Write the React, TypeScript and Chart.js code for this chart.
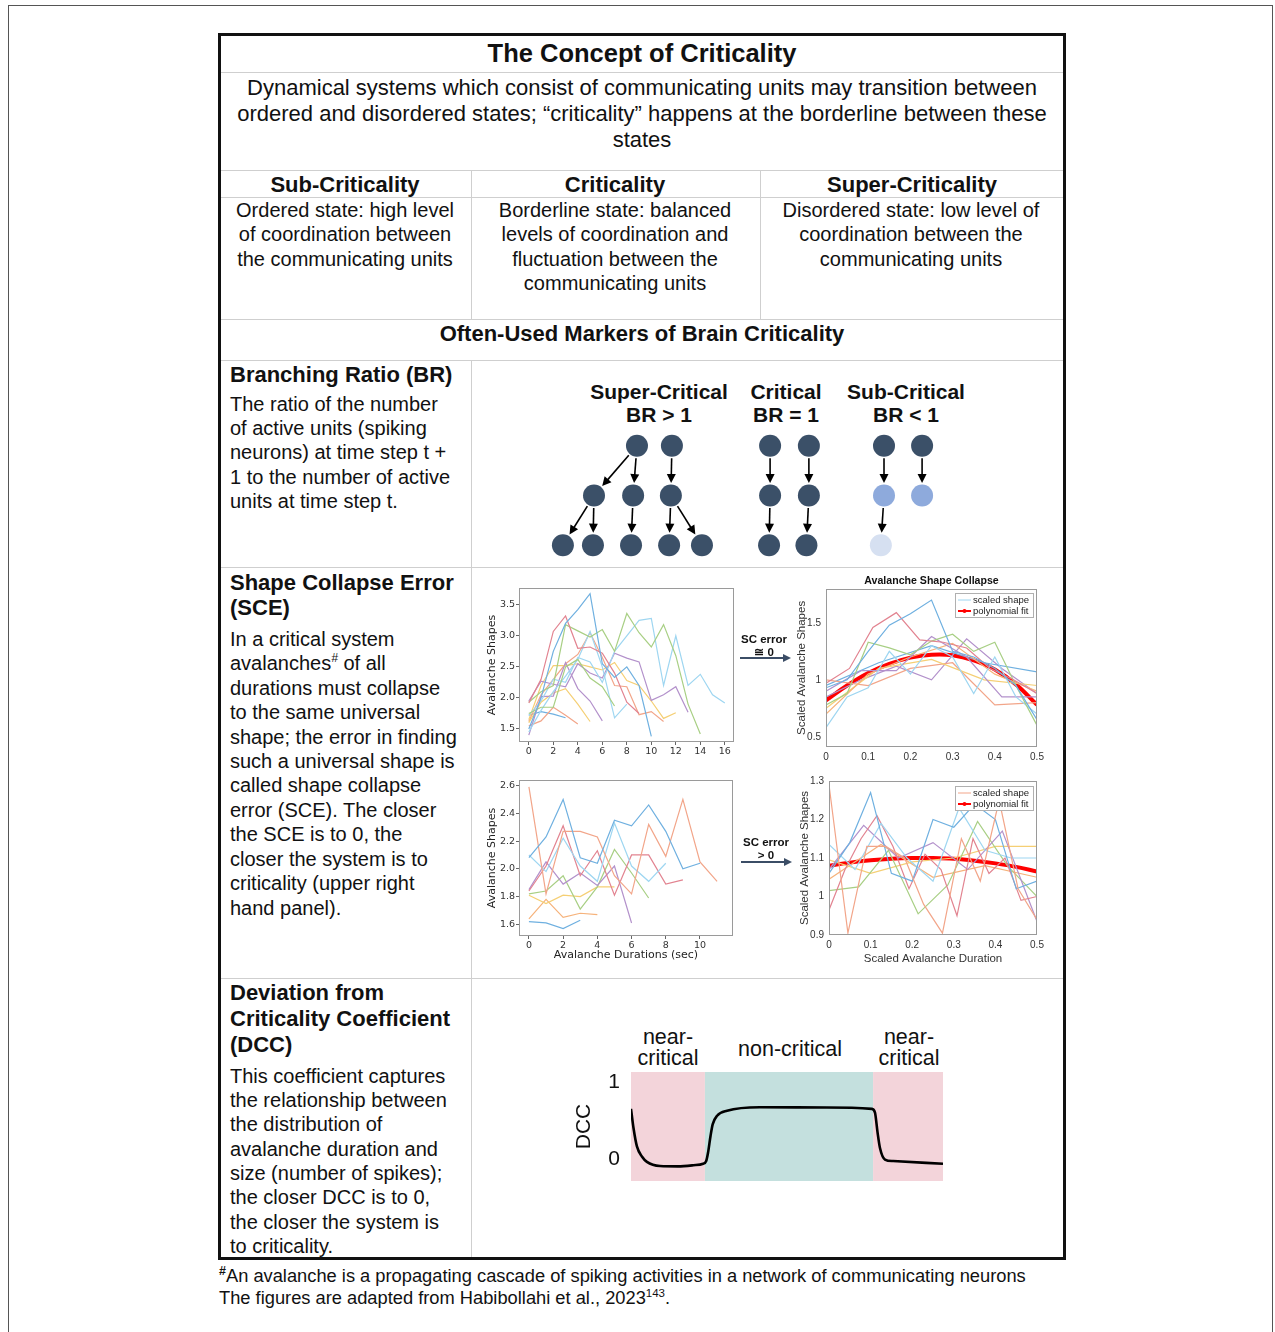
import React, { useEffect, useRef } from "react";
import { Chart, registerables } from "chart.js";
Chart.register(...registerables);

const FONT = "'Liberation Sans', Arial, Helvetica, sans-serif";
const MPL = "'DejaVu Sans', 'Liberation Sans', sans-serif";
Chart.defaults.font.family = FONT;

// ---------- Panel 1: avalanche shapes near criticality (x = avalanche time step) ----------
const crit1XTicks = [0, 2, 4, 6, 8, 10, 12, 14, 16];
const crit1YTicks = [1.5, 2.0, 2.5, 3.0, 3.5];
const crit1Blue = [1.5, 2.0, 2.75, 3.2, 3.42, 3.68, 2.55, 2.33, 2.5, 2.2, 1.38];
const crit1Red = [1.92, 2.3, 3.07, 3.32, 2.8, 2.82, 2.72, 2.4, 1.93, 1.75];
const crit1GreenA = [1.93, 2.1, 2.2, 3.18, 3.08, 2.98, 3.1, 2.75, 3.36, 3.05, 2.82, 3.18, 2.68, 1.9, 1.42];
const crit1GreenB = [1.75, 1.85, 1.85, 2.5, 2.62, 2.32, 2.18, 1.87];
const crit1CyanA = [1.72, 1.95, 2.3, 2.25, 2.65, 2.58, 2.25, 2.75, 3.0, 3.25, 3.28, 2.2, 3.0, 2.2, 2.38, 2.05, 1.92];
const crit1CyanB = [1.45, 1.8, 2.1, 2.35, 2.62, 3.07, 2.5, 1.68, 1.9];
const crit1PurpleA = [1.4, 2.02, 2.03, 2.57, 2.15, 1.95, 1.63];
const crit1PurpleB = [1.95, 2.27, 2.22, 2.18, 2.55, 2.4, 2.32, 2.72, 2.64, 2.58, 1.96, 2.05, 2.18, 1.77];
const crit1YellowA = [1.65, 2.2, 2.52, 2.52, 2.55, 2.5, 2.45, 2.57, 2.28, 2.2, 1.95, 1.67, 1.76];
const crit1YellowB = [1.6, 1.93, 2.08, 2.15, 1.9, 1.62];
const crit1SalmonA = [1.55, 1.63, 1.85, 1.72, 1.58];
const crit1SalmonB = [1.62, 2.05, 2.3, 2.55, 2.7, 3.05, 2.65, 2.2, 2.18, 1.73, 1.78, 1.62];
const crit1BlueShort = [1.72, 1.78, 1.74, 1.68];

// ---------- Panel 2: collapsed shapes near criticality (x = scaled duration 0..0.5) ----------
const scaledXTicks = [0, 0.1, 0.2, 0.3, 0.4, 0.5];
const crit2YTicks = [0.5, 1, 1.5];
const crit2Blue = [0.93, 1.0, 1.25, 1.48, 1.58, 1.7, 1.25, 1.2, 1.1, 0.95, 0.65];
const crit2Red = [0.97, 1.1, 1.46, 1.59, 1.35, 1.33, 1.28, 1.1, 1.0, 0.88];
const crit2Green = [0.78, 0.88, 1.33, 1.28, 1.22, 1.34, 1.4, 1.25, 1.33, 0.95, 0.6];
const crit2Cyan = [0.58, 0.85, 0.93, 1.25, 1.05, 1.3, 1.2, 0.88, 1.2, 0.85, 0.7];
const crit2Purple = [0.9, 1.08, 1.08, 1.38, 1.2, 0.85, 0.85];
const crit2Orange = [0.7, 1.05, 1.2, 1.32, 1.05, 0.9];
const crit2Yellow = [0.75, 1.1, 1.18, 1.0, 0.95];
const crit2Salmon = [1.0, 0.95, 1.1, 1.15, 0.78, 0.8];
const crit2BlueB = [0.95, 1.15, 1.3, 1.15, 1.07];
const crit2PurpleB = [0.85, 1.0, 1.12, 1.0, 1.36, 1.1, 0.88];
const crit2Fit = [0.82, 0.95, 1.06, 1.14, 1.195, 1.22, 1.215, 1.17, 1.09, 0.96, 0.78];

// ---------- Panel 3: avalanche shapes away from criticality ----------
const non3XTicks = [0, 2, 4, 6, 8, 10];
const non3YTicks = [1.6, 1.8, 2.0, 2.2, 2.4, 2.6];
const non3Blue = [2.08, 2.23, 2.5, 2.08, 2.04, 2.35, 2.31, 2.46, 2.27, 2.0, 2.04];
const non3Salmon = [2.59, 1.82, 2.27, 2.27, 2.23, 1.95, 1.82, 2.32, 2.09, 2.5, 2.05, 1.91];
const non3Cyan = [2.1, 1.98, 2.22, 2.02, 1.91, 2.33, 2.02, 1.91, 2.04];
const non3Red = [1.84, 2.02, 2.31, 1.95, 2.13, 1.81, 2.1, 2.1, 1.89, 1.92];
const non3Purple = [1.85, 2.05, 1.89, 1.97, 1.88, 2.02, 1.61];
const non3Green = [1.82, 1.84, 1.95, 1.71, 1.87, 2.14, 1.97, 1.79];
const non3Yellow = [1.81, 1.75, 1.81, 1.8, 1.87, 1.87];
const non3Orange = [1.64, 1.78, 1.65, 1.68, 1.67];
const non3BlueShort = [1.62, 1.61, 1.57, 1.63];

// ---------- Panel 4: collapsed shapes away from criticality ----------
const non4YTicks = [0.9, 1, 1.1, 1.2, 1.3];
const non4Salmon = [1.29, 0.905, 1.13, 1.13, 1.1, 0.98, 0.905, 1.15, 1.04, 1.25, 1.02, 0.94];
const non4Blue = [1.06, 1.14, 1.27, 1.06, 1.04, 1.2, 1.18, 1.24, 1.2, 1.02, 1.04];
const non4Cyan = [1.135, 1.07, 1.19, 1.1, 1.04, 1.23, 1.12, 1.1, 1.1];
const non4Red = [0.965, 1.07, 1.15, 1.21, 1.13, 1.02, 1.11, 1.07, 0.95, 1.15, 1.06, 1.1, 0.99, 1.0];
const non4Purple = [1.07, 1.185, 1.1, 1.14, 1.07, 1.17, 0.935];
const non4Green = [1.015, 1.025, 1.12, 0.955, 1.03, 1.195, 1.08, 1.0];
const non4Yellow = [1.095, 1.06, 1.09, 1.1, 1.13, 1.13];
const non4Orange = [1.045, 1.135, 1.05, 1.08, 1.05];
const non4Fit = [1.08, 1.088, 1.094, 1.098, 1.1, 1.1, 1.098, 1.093, 1.086, 1.077, 1.065];

const legendLabels = ["scaled shape", "polynomial fit"];

// ---------- DCC ----------
const dccX = [0, 0.008, 0.019, 0.035, 0.051, 0.093, 0.15, 0.2, 0.231, 0.241, 0.247, 0.255, 0.262, 0.276, 0.308, 0.413, 0.628, 0.772, 0.782, 0.79, 0.798, 0.814, 0.84, 1.0];
const dccY = [0.65, 0.4, 0.16, 0.03, -0.04, -0.095, -0.1, -0.085, -0.065, -0.03, 0.08, 0.3, 0.45, 0.56, 0.625, 0.67, 0.668, 0.65, 0.6, 0.35, 0.14, -0.01, -0.03, -0.065];
const dccTicks = [0, 1];
const dccRegionStart = [0, 0.237, 0.776];
const dccRegionEnd = [0.237, 0.776, 1];

// ---------- Branching ratio nodes (x in node units, level = time step) ----------
const nodeX = [4.75, 5.75, 3.52, 4.64, 5.72, 2.63, 3.49, 4.58, 5.67, 6.61, 8.56, 9.67, 8.56, 9.67, 8.53, 9.6, 11.82, 12.91, 11.82, 12.91, 11.73];
const nodeLevel = [0, 0, 1, 1, 1, 2, 2, 2, 2, 2, 0, 0, 1, 1, 2, 2, 0, 0, 1, 1, 2];
const nodeShade = [0, 0, 0, 0, 0, 0, 0, 0, 0, 0, 0, 0, 0, 0, 0, 0, 0, 0, 1, 1, 2];
const branchEdges = [[0, 2], [0, 3], [1, 4], [2, 5], [2, 6], [3, 7], [4, 8], [4, 9], [10, 12], [12, 14], [11, 13], [13, 15], [16, 18], [18, 20], [17, 19]];

// ---------- styles ----------
const COL = {
  blue: "#6fb0e0",
  cyan: "#9ed6f1",
  red: "#e28390",
  salmon: "#f2a589",
  green: "#a8cf84",
  purple: "#b391cb",
  yellow: "#f5cf74",
  orange: "#f6b27a",
};
const crit1Series = [crit1Blue, crit1Red, crit1GreenA, crit1GreenB, crit1CyanA, crit1CyanB, crit1PurpleA, crit1PurpleB, crit1YellowA, crit1YellowB, crit1SalmonA, crit1SalmonB, crit1BlueShort];
const crit1Colors = [COL.blue, COL.red, COL.green, COL.green, COL.cyan, COL.cyan, COL.purple, COL.purple, COL.yellow, COL.yellow, COL.salmon, COL.salmon, COL.blue];
const crit2Series = [crit2Blue, crit2Red, crit2Green, crit2Cyan, crit2Purple, crit2Orange, crit2Yellow, crit2Salmon, crit2BlueB, crit2PurpleB];
const crit2Colors = [COL.blue, COL.red, COL.green, COL.cyan, COL.purple, COL.orange, COL.yellow, COL.salmon, COL.blue, COL.purple];
const non3Series = [non3Blue, non3Salmon, non3Cyan, non3Red, non3Purple, non3Green, non3Yellow, non3Orange, non3BlueShort];
const non3Colors = [COL.blue, COL.salmon, COL.cyan, COL.red, COL.purple, COL.green, COL.yellow, COL.orange, COL.blue];
const non4Series = [non4Salmon, non4Blue, non4Cyan, non4Red, non4Purple, non4Green, non4Yellow, non4Orange];
const non4Colors = [COL.salmon, COL.blue, COL.cyan, COL.red, COL.purple, COL.green, COL.yellow, COL.orange];
const shadeColors = ["#3b5068", "#8eaadc", "#d6e0f1"];

const setTicks = (vals: number[]) => (s: any) => {
  s.ticks = vals.map((v) => ({ value: v }));
};
const fixW = (w: number) => (s: any) => {
  s.width = w;
  s.paddingTop = 0;
  s.paddingBottom = 0;
  s.paddingLeft = 0;
  s.paddingRight = 0;
};
const fixH = (h: number) => (s: any) => {
  s.height = h;
  s.paddingTop = 0;
  s.paddingBottom = 0;
  s.paddingLeft = 0;
  s.paddingRight = 0;
};
const fmt1 = (v: any) => Number(v).toFixed(1);
const fmtG = (v: any) => String(Math.round(Number(v) * 100) / 100);

const framePlugin = {
  id: "frame",
  afterDatasetsDraw(chart: any) {
    const { ctx, chartArea: a } = chart;
    ctx.save();
    ctx.strokeStyle = "#9a9a9a";
    ctx.lineWidth = 1;
    ctx.strokeRect(Math.round(a.left) + 0.5, Math.round(a.top) + 0.5, Math.round(a.width) - 1, Math.round(a.height) - 1);
    ctx.restore();
  },
};

function legendPlugin(sampleColor: string, gapTop: number) {
  return {
    id: "legendBox",
    afterDraw(chart: any) {
      const { ctx, chartArea: a } = chart;
      const w = 78;
      const h = 24;
      const x = Math.round(a.right - 4 - w);
      const y = Math.round(a.top + gapTop);
      ctx.save();
      ctx.fillStyle = "#fff";
      ctx.fillRect(x, y, w, h);
      ctx.strokeStyle = "#b0b0b0";
      ctx.lineWidth = 1;
      ctx.strokeRect(x + 0.5, y + 0.5, w, h);
      ctx.font = `9.5px ${FONT}`;
      ctx.textBaseline = "middle";
      ctx.fillStyle = "#222";
      ctx.strokeStyle = sampleColor;
      ctx.lineWidth = 1;
      ctx.beginPath();
      ctx.moveTo(x + 3, y + 7);
      ctx.lineTo(x + 16, y + 7);
      ctx.stroke();
      ctx.fillText(legendLabels[0], x + 18, y + 7.5);
      ctx.strokeStyle = "#ff0000";
      ctx.lineWidth = 2;
      ctx.beginPath();
      ctx.moveTo(x + 3, y + 18);
      ctx.lineTo(x + 16, y + 18);
      ctx.stroke();
      ctx.fillStyle = "#ff0000";
      ctx.beginPath();
      ctx.arc(x + 9.5, y + 18, 2, 0, Math.PI * 2);
      ctx.fill();
      ctx.fillStyle = "#222";
      ctx.fillText(legendLabels[1], x + 18, y + 18.5);
      ctx.restore();
    },
  };
}

function lineSets(series: number[][], colors: string[], scaled: boolean) {
  return series.map((ys, k) => ({
    data: ys.map((y, i) => ({ x: scaled ? (0.5 * i) / (ys.length - 1) : i, y })),
    borderColor: colors[k],
    borderWidth: 1.2,
    pointRadius: 0,
    fill: false,
    tension: 0,
  }));
}

function fitSet(ys: number[]) {
  return {
    data: ys.map((y, i) => ({ x: (0.5 * i) / (ys.length - 1), y })),
    borderColor: "#ff0000",
    borderWidth: 4,
    pointRadius: 0,
    fill: false,
    tension: 0.4,
  };
}

const commonOpts = {
  animation: false as const,
  responsive: false,
  events: [] as any[],
};

function mplConfig(p: {
  series: number[][];
  colors: string[];
  xMin: number; xMax: number; yMin: number; yMax: number;
  xTicks: number[]; yTicks: number[];
  yW: number; xH: number;
  padTop: number; padRight: number;
  xTitle?: string; xTitlePad?: number;
}) {
  return {
    type: "line",
    data: { datasets: lineSets(p.series, p.colors, false) },
    options: {
      ...commonOpts,
      layout: { autoPadding: false, padding: { top: p.padTop, right: p.padRight, left: 0, bottom: 0 } },
      plugins: { legend: { display: false }, tooltip: { enabled: false } },
      scales: {
        x: {
          type: "linear",
          min: p.xMin,
          max: p.xMax,
          afterBuildTicks: setTicks(p.xTicks),
          afterFit: fixH(p.xH),
          ticks: { font: { family: MPL, size: 9.5 }, color: "#333", padding: 1, maxRotation: 0, autoSkip: false },
          grid: { display: true, drawOnChartArea: false, tickLength: 3, color: "#666" },
          border: { display: false },
          title: p.xTitle
            ? { display: true, text: p.xTitle, font: { family: MPL, size: 11 }, color: "#222", padding: { top: 0, bottom: p.xTitlePad } }
            : { display: false },
        },
        y: {
          type: "linear",
          min: p.yMin,
          max: p.yMax,
          afterBuildTicks: setTicks(p.yTicks),
          afterFit: fixW(p.yW),
          ticks: { font: { family: MPL, size: 9.5 }, color: "#333", padding: 1, callback: fmt1, autoSkip: false },
          grid: { display: true, drawOnChartArea: false, tickLength: 3, color: "#666" },
          border: { display: false },
          title: { display: true, text: "Avalanche Shapes", font: { family: MPL, size: 11 }, color: "#222", padding: { top: 7.4, bottom: 0 } },
        },
      },
    },
    plugins: [framePlugin],
  };
}

function matlabConfig(p: {
  series: number[][];
  colors: string[];
  fit: number[];
  yMin: number; yMax: number; yTicks: number[];
  yW: number; xH: number; padTop: number; padRight: number;
  yTitlePad: number;
  title?: string;
  xTitle?: string; xTitlePad?: number;
  sample: string; legendGap: number;
}) {
  return {
    type: "line",
    data: { datasets: [...lineSets(p.series, p.colors, true), fitSet(p.fit)] },
    options: {
      ...commonOpts,
      layout: { autoPadding: false, padding: { top: p.padTop, right: p.padRight, left: 0, bottom: 0 } },
      plugins: {
        legend: { display: false },
        tooltip: { enabled: false },
        title: p.title
          ? { display: true, text: p.title, fullSize: false, color: "#111", font: { family: FONT, size: 10.6, weight: "bold" }, padding: { top: 3, bottom: 1 } }
          : { display: false },
      },
      scales: {
        x: {
          type: "linear",
          min: 0,
          max: 0.5,
          afterBuildTicks: setTicks(scaledXTicks),
          afterFit: fixH(p.xH),
          ticks: { font: { family: FONT, size: 10 }, color: "#333", padding: 4, maxRotation: 0, autoSkip: false, callback: fmtG },
          grid: { display: false, drawTicks: false },
          border: { display: false },
          title: p.xTitle
            ? { display: true, text: p.xTitle, font: { family: FONT, size: 11.5 }, color: "#333", padding: { top: 0, bottom: p.xTitlePad } }
            : { display: false },
        },
        y: {
          type: "linear",
          min: p.yMin,
          max: p.yMax,
          afterBuildTicks: setTicks(p.yTicks),
          afterFit: fixW(p.yW),
          ticks: { font: { family: FONT, size: 10 }, color: "#333", padding: 5, callback: fmtG, autoSkip: false },
          grid: { display: false, drawTicks: false },
          border: { display: false },
          title: { display: true, text: "Scaled Avalanche Shapes", font: { family: FONT, size: 11.5 }, color: "#333", padding: { top: p.yTitlePad, bottom: 0 } },
        },
      },
    },
    plugins: [framePlugin, legendPlugin(p.sample, p.legendGap)],
  };
}

const dccRegionPlugin = {
  id: "regions",
  beforeDatasetsDraw(chart: any) {
    const { ctx, chartArea: a, scales } = chart;
    const colors = ["#f3d4da", "#c4e0de", "#f3d4da"];
    ctx.save();
    dccRegionStart.forEach((s, i) => {
      const x0 = scales.x.getPixelForValue(s);
      const x1 = scales.x.getPixelForValue(dccRegionEnd[i]);
      ctx.fillStyle = colors[i];
      ctx.fillRect(x0, a.top, x1 - x0, a.bottom - a.top);
    });
    ctx.restore();
  },
};

function dccConfig() {
  return {
    type: "line",
    data: {
      datasets: [
        {
          data: dccX.map((x, i) => ({ x, y: dccY[i] })),
          borderColor: "#000",
          borderWidth: 2.6,
          pointRadius: 0,
          fill: false,
          cubicInterpolationMode: "monotone",
        },
      ],
    },
    options: {
      ...commonOpts,
      layout: { autoPadding: false, padding: { top: 6, right: 17, left: 0, bottom: 15 } },
      plugins: { legend: { display: false }, tooltip: { enabled: false } },
      scales: {
        x: { type: "linear", min: 0, max: 1, display: false },
        y: {
          type: "linear",
          min: -0.29,
          max: 1.13,
          afterBuildTicks: setTicks(dccTicks),
          afterFit: fixW(71),
          ticks: { font: { family: FONT, size: 21 }, color: "#111", padding: 11, autoSkip: false },
          grid: { display: false, drawTicks: false },
          border: { display: false },
          title: { display: true, text: "DCC", font: { family: FONT, size: 21 }, color: "#111", padding: { top: 12, bottom: 0 } },
        },
      },
    },
    plugins: [dccRegionPlugin],
  };
}

const arrowPlugin = {
  id: "arrows",
  afterDatasetsDraw(chart: any) {
    const { ctx, scales } = chart;
    const r = 12.5;
    ctx.save();
    ctx.strokeStyle = "#000";
    ctx.fillStyle = "#000";
    ctx.lineWidth = 1.6;
    branchEdges.forEach(([a, b]) => {
      const ax = scales.x.getPixelForValue(nodeX[a]);
      const ay = scales.y.getPixelForValue(nodeLevel[a]);
      const bx = scales.x.getPixelForValue(nodeX[b]);
      const by = scales.y.getPixelForValue(nodeLevel[b]);
      const dx = bx - ax;
      const dy = by - ay;
      const len = Math.hypot(dx, dy);
      const ux = dx / len;
      const uy = dy / len;
      const sx = ax + ux * r;
      const sy = ay + uy * r;
      const ex = bx - ux * r;
      const ey = by - uy * r;
      const hl = 9;
      const hw = 4.5;
      ctx.beginPath();
      ctx.moveTo(sx, sy);
      ctx.lineTo(ex - ux * hl * 0.8, ey - uy * hl * 0.8);
      ctx.stroke();
      ctx.beginPath();
      ctx.moveTo(ex, ey);
      ctx.lineTo(ex - ux * hl - uy * hw, ey - uy * hl + ux * hw);
      ctx.lineTo(ex - ux * hl + uy * hw, ey - uy * hl - ux * hw);
      ctx.closePath();
      ctx.fill();
    });
    ctx.restore();
  },
};

function branchConfig() {
  return {
    type: "scatter",
    data: {
      datasets: [
        {
          data: nodeX.map((x, i) => ({ x, y: nodeLevel[i] })),
          pointRadius: 11,
          pointBorderWidth: 0,
          pointBackgroundColor: nodeShade.map((s) => shadeColors[s]),
          pointBorderColor: nodeShade.map((s) => shadeColors[s]),
          clip: false,
        },
      ],
    },
    options: {
      ...commonOpts,
      layout: { autoPadding: false, padding: 0 },
      plugins: { legend: { display: false }, tooltip: { enabled: false } },
      scales: {
        x: { type: "linear", min: 0, max: 17, display: false },
        y: { type: "linear", min: -0.5, max: 2.5, reverse: true, display: false },
      },
    },
    plugins: [arrowPlugin],
  };
}

function ChartBox({ x, y, w, h, make }: { x: number; y: number; w: number; h: number; make: () => any }) {
  const ref = useRef<HTMLCanvasElement>(null);
  useEffect(() => {
    const chart = new Chart(ref.current as HTMLCanvasElement, make());
    return () => chart.destroy();
  }, []);
  return (
    <div style={{ position: "absolute", left: x, top: y, width: w, height: h }}>
      <canvas ref={ref} width={w} height={h} style={{ width: w, height: h, display: "block" }} />
    </div>
  );
}

function Lines({ x, y, w, lh, size, bold, align, lines }: { x: number; y: number; w?: number; lh: number; size: number; bold?: boolean; align?: "left" | "center"; lines: React.ReactNode[] }) {
  const isCenter = align === "center";
  const width = w ?? 600;
  return (
    <div
      style={{
        position: "absolute",
        left: isCenter ? x - width / 2 : x,
        top: y - lh / 2,
        width,
        textAlign: isCenter ? "center" : "left",
        fontSize: size,
        fontWeight: bold ? 700 : 400,
        lineHeight: lh + "px",
        whiteSpace: "nowrap",
      }}
    >
      {lines.map((l, i) => (
        <div key={i}>{l}</div>
      ))}
    </div>
  );
}

const HLine = ({ y }: { y: number }) => (
  <div style={{ position: "absolute", left: 221, width: 842, top: y, height: 1, background: "#cfcfcf" }} />
);
const VLine = ({ x, y0, y1 }: { x: number; y0: number; y1: number }) => (
  <div style={{ position: "absolute", left: x, top: y0, width: 1, height: y1 - y0, background: "#cfcfcf" }} />
);

function Arrow({ x0, x1, y }: { x0: number; x1: number; y: number }) {
  return (
    <>
      <div style={{ position: "absolute", left: x0, top: y - 1, width: x1 - x0 - 7, height: 2, background: "#3b4d66" }} />
      <div
        style={{
          position: "absolute",
          left: x1 - 8,
          top: y - 4.5,
          width: 0,
          height: 0,
          borderTop: "4.5px solid transparent",
          borderBottom: "4.5px solid transparent",
          borderLeft: "8px solid #3b4d66",
        }}
      />
    </>
  );
}

export default function App() {
  return (
    <div
      style={{
        position: "absolute",
        left: 0,
        top: 0,
        width: 1275,
        height: 1332,
        overflow: "hidden",
        background: "#fff",
        fontFamily: FONT,
        color: "#111",
      }}
    >
      <div style={{ position: "absolute", left: 8, top: 5, width: 1265, height: 1340, border: "1px solid #555", boxSizing: "border-box" }} />
      <div style={{ position: "absolute", left: 218, top: 33, width: 848, height: 1227, border: "3px solid #111", boxSizing: "border-box" }} />

      <HLine y={72} />
      <HLine y={170} />
      <HLine y={197} />
      <HLine y={319} />
      <HLine y={360} />
      <HLine y={567} />
      <HLine y={978} />
      <VLine x={471} y0={170} y1={319} />
      <VLine x={760} y0={170} y1={319} />
      <VLine x={471} y0={360} y1={1257} />

      <Lines x={642} y={53} w={800} lh={30} size={25.5} bold align="center" lines={["The Concept of Criticality"]} />
      <Lines
        x={642}
        y={88}
        w={840}
        lh={26}
        size={22}
        align="center"
        lines={[
          "Dynamical systems which consist of communicating units may transition between",
          "ordered and disordered states; \u201ccriticality\u201d happens at the borderline between these",
          "states",
        ]}
      />
      <Lines x={345} y={185} w={250} lh={26} size={22} bold align="center" lines={["Sub-Criticality"]} />
      <Lines x={615} y={185} w={280} lh={26} size={22} bold align="center" lines={["Criticality"]} />
      <Lines x={912} y={185} w={300} lh={26} size={22} bold align="center" lines={["Super-Criticality"]} />
      <Lines x={345} y={210} w={250} lh={24.4} size={20} align="center" lines={["Ordered state: high level", "of coordination between", "the communicating units"]} />
      <Lines x={615} y={210} w={280} lh={24.4} size={20} align="center" lines={["Borderline state: balanced", "levels of coordination and", "fluctuation between the", "communicating units"]} />
      <Lines x={911} y={210} w={300} lh={24.4} size={20} align="center" lines={["Disordered state: low level of", "coordination between the", "communicating units"]} />
      <Lines x={642} y={334} w={800} lh={26} size={22} bold align="center" lines={["Often-Used Markers of Brain Criticality"]} />

      <Lines x={230} y={375} lh={26} size={22} bold lines={["Branching Ratio (BR)"]} />
      <Lines
        x={230}
        y={404}
        lh={24.3}
        size={20}
        lines={["The ratio of the number", "of active units (spiking", "neurons) at time step t +", "1 to the number of active", "units at time step t."]}
      />

      <Lines x={230} y={582} lh={25} size={22} bold lines={["Shape Collapse Error", "(SCE)"]} />
      <Lines
        x={230}
        y={639}
        lh={24.45}
        size={20}
        lines={[
          "In a critical system",
          <span>
            avalanches<sup style={{ fontSize: 12, lineHeight: 0, fontStyle: "italic" }}>#</sup> of all
          </span>,
          "durations must collapse",
          "to the same universal",
          "shape; the error in finding",
          "such a universal shape is",
          "called shape collapse",
          "error (SCE). The closer",
          "the SCE is to 0, the",
          "closer the system is to",
          "criticality (upper right",
          "hand panel).",
        ]}
      />

      <Lines x={230} y={993} lh={26} size={22} bold lines={["Deviation from", "Criticality Coefficient", "(DCC)"]} />
      <Lines
        x={230}
        y={1076}
        lh={24.3}
        size={20}
        lines={[
          "This coefficient captures",
          "the relationship between",
          "the distribution of",
          "avalanche duration and",
          "size (number of spikes);",
          "the closer DCC is to 0,",
          "the closer the system is",
          "to criticality.",
        ]}
      />

      <Lines
        x={219}
        y={1276}
        w={1000}
        lh={22}
        size={18.3}
        lines={[
          <span>
            <sup style={{ fontSize: 12.5, lineHeight: 0, fontWeight: 700 }}>#</sup>An avalanche is a propagating cascade of spiking activities in a network of communicating neurons
          </span>,
          <span>
            The figures are adapted from Habibollahi et al., 2023<sup style={{ fontSize: 11.5, lineHeight: 0 }}>143</sup>.
          </span>,
        ]}
      />

      {/* Branching ratio diagram */}
      <Lines x={659} y={391} w={200} lh={23} size={21} bold align="center" lines={["Super-Critical", "BR > 1"]} />
      <Lines x={786} y={391} w={120} lh={23} size={21} bold align="center" lines={["Critical", "BR = 1"]} />
      <Lines x={906} y={391} w={160} lh={23} size={21} bold align="center" lines={["Sub-Critical", "BR < 1"]} />
      <ChartBox x={471} y={421} w={594} h={149} make={branchConfig} />

      {/* Shape collapse panels */}
      <ChartBox
        x={478}
        y={580}
        w={262}
        h={190}
        make={() =>
          mplConfig({
            series: crit1Series,
            colors: crit1Colors,
            xMin: -0.8,
            xMax: 16.75,
            yMin: 1.29,
            yMax: 3.77,
            xTicks: crit1XTicks,
            yTicks: crit1YTicks,
            yW: 41,
            xH: 28,
            padTop: 8,
            padRight: 6,
          })
        }
      />
      <ChartBox
        x={478}
        y={772}
        w={262}
        h={200}
        make={() =>
          mplConfig({
            series: non3Series,
            colors: non3Colors,
            xMin: -0.58,
            xMax: 11.93,
            yMin: 1.516,
            yMax: 2.64,
            xTicks: non3XTicks,
            yTicks: non3YTicks,
            yW: 41,
            xH: 36,
            padTop: 8,
            padRight: 7,
            xTitle: "Avalanche Durations (sec)",
            xTitlePad: 10.4,
          })
        }
      />
      <ChartBox
        x={790}
        y={572}
        w={255}
        h={195}
        make={() =>
          matlabConfig({
            series: crit2Series,
            colors: crit2Colors,
            fit: crit2Fit,
            yMin: 0.41,
            yMax: 1.8,
            yTicks: crit2YTicks,
            yW: 36,
            xH: 20,
            padTop: 0,
            padRight: 8,
            yTitlePad: 4.8,
            title: "Avalanche Shape Collapse",
            sample: COL.cyan,
            legendGap: 4,
          })
        }
      />
      <ChartBox
        x={790}
        y={772}
        w={255}
        h={200}
        make={() =>
          matlabConfig({
            series: non4Series,
            colors: non4Colors,
            fit: non4Fit,
            yMin: 0.9,
            yMax: 1.3,
            yTicks: non4YTicks,
            yW: 39,
            xH: 37,
            padTop: 9,
            padRight: 8,
            yTitlePad: 8.1,
            xTitle: "Scaled Avalanche Duration",
            xTitlePad: 6.1,
            sample: COL.salmon,
            legendGap: 5,
          })
        }
      />
      <Lines x={764} y={639} w={80} lh={13} size={11.5} bold align="center" lines={["SC error", "\u2245 0"]} />
      <Arrow x0={740} x1={791} y={658} />
      <Lines x={766} y={842} w={80} lh={13} size={11.5} bold align="center" lines={["SC error", "> 0"]} />
      <Arrow x0={741} x1={792} y={862} />

      {/* DCC */}
      <Lines x={668} y={1037} w={120} lh={21} size={21.5} align="center" lines={["near-", "critical"]} />
      <Lines x={790} y={1049} w={160} lh={21} size={21.5} align="center" lines={["non-critical"]} />
      <Lines x={909} y={1037} w={120} lh={21} size={21.5} align="center" lines={["near-", "critical"]} />
      <ChartBox x={560} y={1066} w={400} h={130} make={dccConfig} />
    </div>
  );
}
